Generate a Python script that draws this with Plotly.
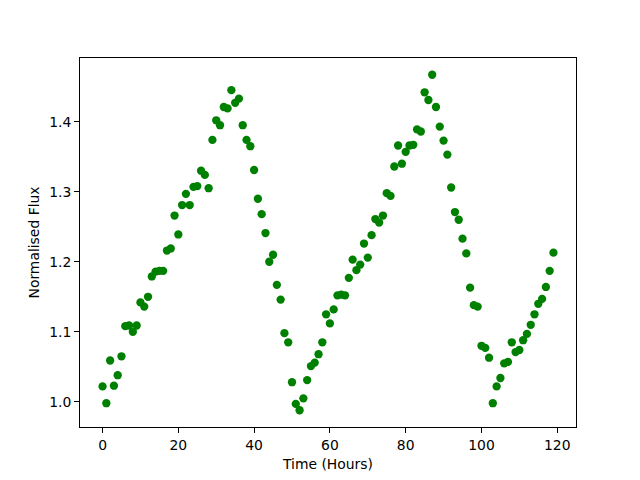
import plotly.graph_objects as go

hours = list(range(120))
flux = [
    1.022, 0.998, 1.059, 1.023, 1.038, 1.065, 1.108, 1.109, 1.100, 1.109,
    1.142, 1.136, 1.150, 1.179, 1.186, 1.187, 1.187, 1.216, 1.219, 1.266,
    1.239, 1.281, 1.297, 1.281, 1.307, 1.308, 1.330, 1.324, 1.305, 1.374,
    1.402, 1.395, 1.421, 1.419, 1.445, 1.427, 1.433, 1.395, 1.374, 1.365,
    1.331, 1.290, 1.268, 1.241, 1.200, 1.210, 1.167, 1.146, 1.098, 1.085,
    1.028, 0.997, 0.988, 1.005, 1.031, 1.051, 1.056, 1.068, 1.085, 1.125,
    1.112, 1.132, 1.152, 1.153, 1.152, 1.177, 1.203, 1.188, 1.196, 1.226,
    1.206, 1.238, 1.261, 1.256, 1.266, 1.298, 1.294, 1.336, 1.366, 1.340,
    1.357, 1.366, 1.367, 1.389, 1.386, 1.442, 1.431, 1.467, 1.421, 1.393,
    1.373, 1.353, 1.306, 1.271, 1.260, 1.233, 1.212, 1.163, 1.138, 1.136,
    1.080, 1.077, 1.063, 0.998, 1.022, 1.034, 1.055, 1.057, 1.085, 1.071,
    1.074, 1.088, 1.097, 1.110, 1.125, 1.140, 1.147, 1.164, 1.187, 1.213,
]
x_ticks = [0, 20, 40, 60, 80, 100, 120]
y_ticks = [1.0, 1.1, 1.2, 1.3, 1.4]

xmin, xmax = min(hours), max(hours)
ymin, ymax = min(flux), max(flux)
xpad = 0.05 * (xmax - xmin)
ypad = 0.05 * (ymax - ymin)

fig = go.Figure(go.Scatter(
    x=hours, y=flux, mode="markers",
    marker=dict(color="#008000", size=8.3, line=dict(width=0)),
))

axis_common = dict(
    showgrid=False, zeroline=False, showline=True, linecolor="black",
    linewidth=1, mirror=True, ticks="outside", ticklen=5, tickwidth=1,
    tickcolor="black", automargin=False,
    tickfont=dict(family="DejaVu Sans", size=13.9, color="black"),
)

# page body has an 8px margin; size the figure to fit inside the window
fig.update_layout(
    width=624, height=464,
    margin=dict(l=72, r=56, t=50, b=45),
    paper_bgcolor="white", plot_bgcolor="white",
    showlegend=False,
    font=dict(family="DejaVu Sans", size=13.9, color="black"),
    xaxis=dict(
        range=[xmin - xpad, xmax + xpad], tickvals=x_ticks,
        title=dict(text="Time (Hours)", standoff=7,
                   font=dict(family="DejaVu Sans", size=13.9)),
        **axis_common,
    ),
    yaxis=dict(
        range=[ymin - ypad, ymax + ypad], tickvals=y_ticks, tickformat=".1f",
        title=dict(text="Normalised Flux", standoff=6,
                   font=dict(family="DejaVu Sans", size=13.9)),
        **axis_common,
    ),
)

fig.write_html("out.html")
